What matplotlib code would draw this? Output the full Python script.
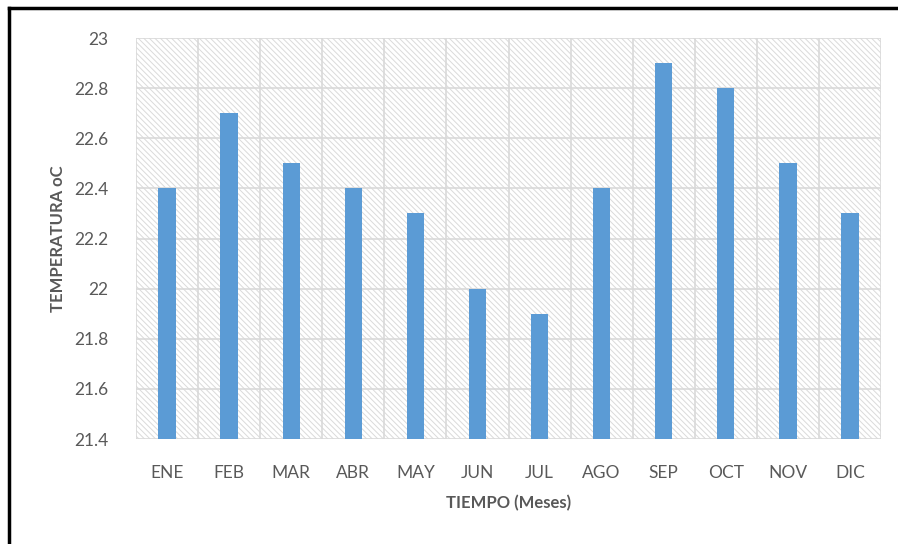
#Monthly mean temperature bar chart
import matplotlib
matplotlib.use("Agg")
import matplotlib.pyplot as plt
from matplotlib.patches import Rectangle
from matplotlib.lines import Line2D

#Data
months = ["ENE", "FEB", "MAR", "ABR", "MAY", "JUN", "JUL", "AGO", "SEP", "OCT", "NOV", "DIC"]
temps = [22.4, 22.7, 22.5, 22.4, 22.3, 22.0, 21.9, 22.4, 22.9, 22.8, 22.5, 22.3]
y_ticks = [21.4, 21.6, 21.8, 22.0, 22.2, 22.4, 22.6, 22.8, 23.0]
y_tick_labels = ["21.4", "21.6", "21.8", "22", "22.2", "22.4", "22.6", "22.8", "23"]

plt.rcParams["font.family"] = ["Lato", "DejaVu Sans"]
plt.rcParams["hatch.linewidth"] = 0.7

W, H = 898, 544
fig = plt.figure(figsize=(W / 100, H / 100), dpi=100)
ax = fig.add_axes([136 / W, 1 - 439 / H, (881 - 136) / W, (439 - 38) / H])

#hatched background
ax.add_patch(Rectangle((0, 0), 1, 1, transform=ax.transAxes, facecolor="white",
                       edgecolor="#dadada", linewidth=0, hatch="\\" * 6, zorder=0))

x = list(range(len(months)))
ax.bar(x, [t - 21.4 for t in temps], bottom=21.4, width=0.28, color="#5b9bd5", zorder=3)

ax.set_xlim(-0.5, len(months) - 0.5)
ax.set_ylim(21.4, 23.0)
ax.set_yticks(y_ticks)
ax.set_yticklabels(y_tick_labels)
ax.set_xticks(x)
ax.set_xticklabels(months)

#grid: horizontal at ticks, vertical at category boundaries
for v in y_ticks:
    ax.axhline(v, color="#d9d9d9", lw=1.2, zorder=1)
for i in range(len(months) + 1):
    ax.axvline(i - 0.5, color="#d9d9d9", lw=1.2, zorder=1)

for s in ax.spines.values():
    s.set_visible(False)
ax.tick_params(length=0, labelsize=12.5, colors="#595959")
ax.tick_params(axis="x", pad=19)
ax.tick_params(axis="y", pad=20)

ax.set_xlabel("TIEMPO (Meses)", fontsize=12, fontweight="bold", color="#595959", labelpad=10)
ax.set_ylabel("TEMPERATURA oC", fontsize=12, fontweight="bold", color="#595959", labelpad=6)

#outer frame (left and top edges visible)
fig.add_artist(Line2D([9 / W, 9 / W], [0, 1 - 8 / H], color="black", lw=2.5))
fig.add_artist(Line2D([9 / W, 1], [1 - 8 / H, 1 - 8 / H], color="black", lw=2.5))

fig.savefig("out.png", dpi=100)
